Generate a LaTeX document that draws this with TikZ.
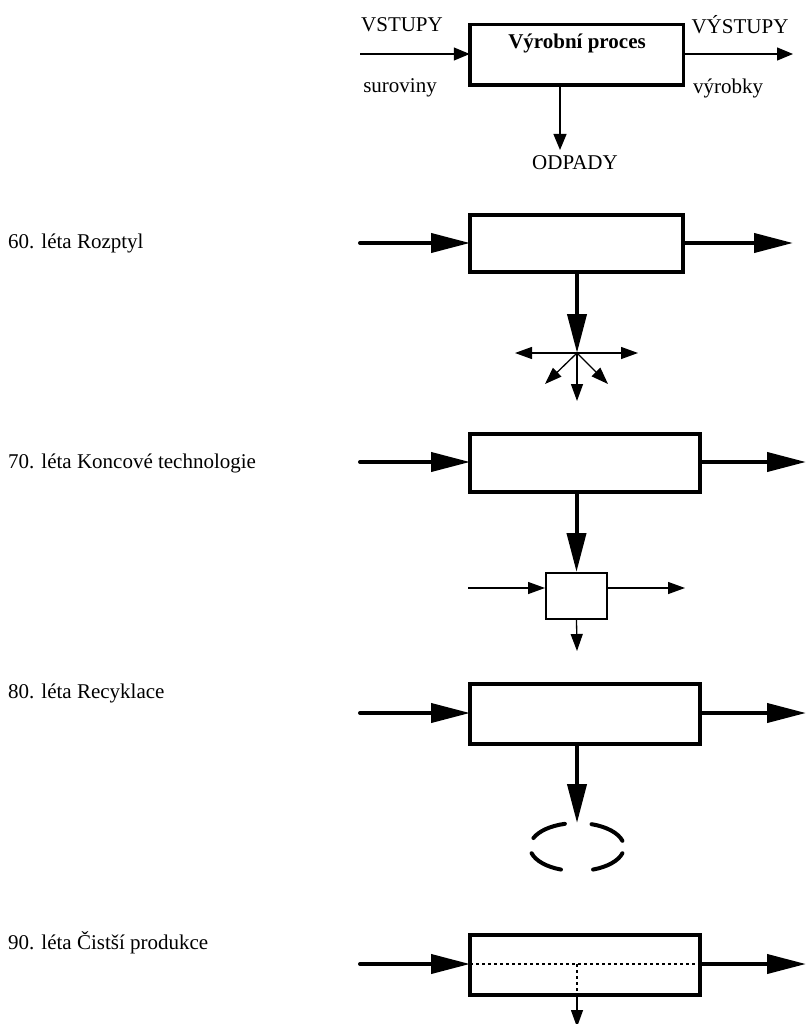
\documentclass[tikz,border=0pt]{standalone}
\usepackage{fontspec}
\setmainfont{Liberation Serif}
\usetikzlibrary{arrows.meta,calc}
\begin{document}
\begin{tikzpicture}[x=1pt,y=-1pt,
  txt/.style={inner sep=0pt,font=\fontsize{21}{25}\selectfont},
  lbl/.style={txt,anchor=west},
  bigbox/.style={draw,line width=4pt,inner sep=0pt,outer sep=0pt},
  thinarr/.style={line width=1.3pt,-{Triangle[length=17pt,width=12pt]}},
  toparr/.style={line width=1.3pt,-{Triangle[length=16pt,width=13pt]}},
  thickarr/.style={line width=4pt,line cap=round,-{Triangle[length=39pt,width=19pt]}},
  dotline/.style={line width=1.2pt,dash pattern=on 3pt off 3pt}]
\path[fill=white] (0,0) rectangle (805,1024);
\useasboundingbox (0,0) rectangle (805,1024);

% ---- top legend
\node[bigbox,line width=3.5pt,minimum width=213.5pt,minimum height=60.5pt] (B0) at (576.5,55) {};
\node[txt,font=\fontsize{21}{25}\selectfont\bfseries] (T0) at (577,43) {Výrobní proces};
\node[txt] (Lin) at (402,25) {VSTUPY};
\node[txt] (Lsur) at (400,88) {suroviny};
\node[txt] (Lout) at (740,25) {VÝSTUPY};
\node[txt] (Lvyr) at (728,88) {výrobky};
\node[txt] (Lodp) at (575,163) {ODPADY};
\coordinate (i0) at (360,54);
\coordinate (o0) at (793,54);
\coordinate (d0) at (560,150);
\draw[toparr] (i0) -- (i0 -| B0.west);
\draw[toparr] (o0 -| B0.east) -- (o0);
\draw[toparr] (d0 |- B0.south) -- (d0);

% ---- 60s
\node[lbl] (L1) at (8,243) {60. léta Rozptyl};
\node[bigbox,minimum width=213pt,minimum height=57pt] (B1) at (576.5,243.5) {};
\coordinate (i1) at (360,243);
\coordinate (o1) at (793,243);
\coordinate (sc) at (577,353);
\draw[thickarr] (i1) -- (i1 -| B1.west);
\draw[thickarr] (o1 -| B1.east) -- (o1);
\draw[thickarr] (sc |- B1.south) -- (sc);
\coordinate (s1) at (515,353);
\coordinate (s2) at (638,353);
\coordinate (s3) at (545,384);
\coordinate (s4) at (608,384);
\coordinate (s5) at (577,401);
\foreach \p in {s1,s2,s3,s4,s5} \draw[thinarr] (sc) -- (\p);

% ---- 70s
\node[lbl] (L2) at (8,463) {70. léta Koncové technologie};
\node[bigbox,minimum width=230pt,minimum height=58pt] (B2) at (585,463) {};
\node[draw,line width=2pt,inner sep=0pt,minimum width=61pt,minimum height=46pt] (S) at (576.5,596) {};
\coordinate (i2) at (360,462);
\coordinate (o2) at (806,462);
\draw[thickarr] (i2) -- (i2 -| B2.west);
\draw[thickarr] (o2 -| B2.east) -- (o2);
\draw[thickarr] (S.north |- B2.south) -- (S.north);
\coordinate (si) at (468,588);
\coordinate (so) at (685,588);
\coordinate (sd) at (577,651);
\draw[thinarr] (si) -- (si -| S.west);
\draw[thinarr] (so -| S.east) -- (so);
\draw[thinarr] (S.south) -- (sd);

% ---- 80s
\node[lbl] (L3) at (8,693) {80. léta Recyklace};
\node[bigbox,minimum width=230pt,minimum height=60pt] (B3) at (585,714) {};
\coordinate (i3) at (360,713);
\coordinate (o3) at (806,713);
\coordinate (E3c) at (577,847);
\coordinate (E3) at (577,823);
\draw[thickarr] (i3) -- (i3 -| B3.west);
\draw[thickarr] (o3 -| B3.east) -- (o3);
\draw[thickarr] (E3 |- B3.south) -- (E3);
\foreach \a/\b in {105/158,195/250,290/345,15/72}
  \draw[line width=4pt,line cap=round]
    ([shift={(\a:47pt and 24pt)}]E3c) arc[start angle=\a,end angle=\b,x radius=47pt,y radius=24pt];

% ---- 90s
\node[lbl] (L4) at (8,943) {90. léta Čistší produkce};
\node[bigbox,minimum width=230pt,minimum height=60pt] (B4) at (585,965) {};
\coordinate (i4) at (360,964);
\coordinate (o4) at (806,964);
\coordinate (m4) at (577,964);
\coordinate (d4) at (577,1027);
\draw[thickarr] (i4) -- (i4 -| B4.west);
\draw[thickarr] (o4 -| B4.east) -- (o4);
\draw[dotline] (i4 -| B4.west) -- (o4 -| B4.east);
\draw[dotline] (m4) -- (m4 |- B4.south);
\draw[thinarr] (m4 |- B4.south) -- (d4);
\end{tikzpicture}
\end{document}
